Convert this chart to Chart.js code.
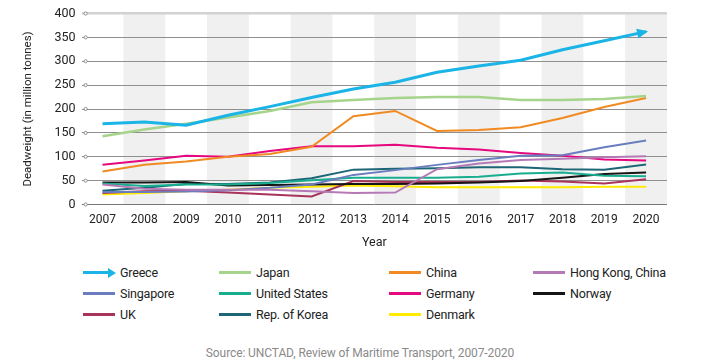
<!DOCTYPE html>
<html>
<head>
<meta charset="utf-8">
<script src="https://cdn.jsdelivr.net/npm/chart.js@4/dist/chart.umd.min.js"></script>
<style>
  body { margin: 0; background: #fff; font-family: Roboto, sans-serif; }
  #wrap { position: relative; width: 714px; height: 364px; overflow: hidden; }
  #chartBox { position: absolute; left: 0; top: 0; width: 714px; height: 250px; }
  #legend { position: absolute; left: 83px; top: 262px; display: grid;
            grid-template-columns: 136px 170px 144px 170px; grid-auto-rows: 21px; }
  .item { display: flex; align-items: center; font-size: 12.5px; color: #222; white-space: nowrap; letter-spacing: -0.2px; }
  .swatch { width: 32px; height: 3px; margin-right: 5px; position: relative; flex: none; }
  .swatch.arrow { width: 26px; margin-right: 11px; }
  .swatch.arrow::after { content: ''; position: absolute; right: -7px; top: -3.5px;
            border-left: 8px solid #1bb4e6; border-top: 5px solid transparent; border-bottom: 5px solid transparent; }
  #source { position: absolute; top: 346px; left: 0; width: 720px; text-align: center; font-size: 12px; color: #8a8a8a; letter-spacing: -0.1px; }
</style>
</head>
<body>
<div id="wrap">
  <div id="chartBox"><canvas id="chart"></canvas></div>
  <div id="legend"></div>
  <div id="source">Source: UNCTAD, Review of Maritime Transport, 2007-2020</div>
</div>
<script>
// values (million dwt)
const years = ['2007', '2008', '2009', '2010', '2011', '2012', '2013', '2014', '2015', '2016', '2017', '2018', '2019', '2020'];
const yTicks = [0, 50, 100, 150, 200, 250, 300, 350, 400];

const greece = [169, 173, 166, 187, 205, 224, 242, 256, 277, 290, 302, 324, 343, 362];
const japan = [143, 157, 169, 182, 196, 214, 219, 223, 225, 225, 219, 219, 221, 227];
const china = [69, 83, 90, 100, 106, 121, 185, 196, 154, 156, 162, 181, 204, 223];
const hongKong = [42, 33, 31, 31, 31, 28, 24, 25, 74, 86, 93, 96, 99, 101];
const singapore = [26, 26, 27, 30, 35, 42, 62, 72, 83, 93, 102, 103, 120, 134];
const unitedStates = [44, 39, 42, 42, 45, 51, 56, 56, 56, 58, 65, 67, 60, 59];
const germany = [83, 92, 102, 100, 112, 122, 122, 125, 119, 115, 108, 102, 94, 92];
const norway = [46, 46, 47, 40, 41, 42, 43, 43, 44, 46, 49, 56, 64, 67];
const uk = [24, 28, 29, 25, 21, 17, 49, 47, 47, 47, 50, 48, 44, 53];
const repKorea = [29, 35, 43, 43, 46, 55, 73, 75, 76, 78, 78, 74, 73, 84];
const denmark = [21, 24, 28, 31, 35, 37, 40, 38, 36, 36, 36, 36, 37, 37];

const FONT = 'Roboto, sans-serif';

function series(label, data, color, width) {
  return { label: label, data: data, borderColor: color, backgroundColor: color,
           borderWidth: width || 2, pointRadius: 0, tension: 0, fill: false };
}

// legend order (row by row); draw order puts Greece on top
const datasets = [
  series('Greece', greece, '#1bb4e6', 3),
  series('Japan', japan, '#a6d48b', 2.5),
  series('China', china, '#f18a21'),
  series('Hong Kong, China', hongKong, '#b57ab6'),
  series('Singapore', singapore, '#6a7ebf'),
  series('United States', unitedStates, '#19ad90'),
  series('Germany', germany, '#e5087e'),
  series('Norway', norway, '#151515'),
  series('UK', uk, '#a8335b'),
  series('Rep. of Korea', repKorea, '#1d6676'),
  series('Denmark', denmark, '#ffea00')
];
datasets.forEach((d, i) => { d.order = i; });

// grey columns behind every other year
const bands = {
  id: 'bands',
  beforeDraw(chart) {
    const { ctx, chartArea } = chart;
    const x = chart.scales.x;
    const w = (chartArea.right - chartArea.left) / years.length;
    ctx.save();
    ctx.fillStyle = '#f0f0f0';
    years.forEach((y, i) => {
      if (i % 2 === 1) {
        const cx = x.getPixelForValue(i);
        ctx.fillRect(cx - w / 2, chartArea.top, w, chartArea.bottom - chartArea.top);
      }
    });
    ctx.restore();
  }
};

// arrow head on Greece + little circles at the start of the gridlines
const marks = {
  id: 'marks',
  afterDatasetsDraw(chart) {
    const { ctx, chartArea } = chart;
    const pts = chart.getDatasetMeta(0).data;
    const a = pts[pts.length - 2], b = pts[pts.length - 1];
    const ang = Math.atan2(b.y - a.y, b.x - a.x);
    ctx.save();
    ctx.fillStyle = '#1bb4e6';
    ctx.translate(b.x, b.y);
    ctx.rotate(ang);
    ctx.beginPath();
    ctx.moveTo(2, 0);
    ctx.lineTo(-9, -5);
    ctx.lineTo(-9, 5);
    ctx.closePath();
    ctx.fill();
    ctx.restore();

    const yScale = chart.scales.y;
    ctx.save();
    ctx.strokeStyle = '#8c8c8c';
    ctx.fillStyle = '#fff';
    ctx.lineWidth = 1;
    yTicks.forEach(v => {
      ctx.beginPath();
      ctx.arc(chartArea.left + 4, yScale.getPixelForValue(v), 1.6, 0, Math.PI * 2);
      ctx.fill();
      ctx.stroke();
    });
    ctx.restore();
  }
};

new Chart(document.getElementById('chart'), {
  type: 'line',
  data: { labels: years, datasets: datasets },
  plugins: [bands, marks],
  options: {
    responsive: true,
    maintainAspectRatio: false,
    animation: false,
    layout: { padding: { left: 21, right: 47, top: 12, bottom: 0 } },
    plugins: { legend: { display: false }, tooltip: { enabled: false } },
    scales: {
      x: {
        offset: true,
        grid: { display: false, drawTicks: false },
        border: { display: false },
        ticks: { color: '#222', font: { family: FONT, size: 12 }, padding: 8, maxRotation: 0, autoSkip: false },
        title: { display: true, text: 'Year', color: '#222', font: { family: FONT, size: 12.5 }, padding: 0 },
        afterFit(s) { s.height = 45.5; }
      },
      y: {
        min: 0,
        max: 400,
        afterBuildTicks(s) { s.ticks = yTicks.map(v => ({ value: v })); },
        grid: {
          drawTicks: false,
          color: c => c.tick && c.tick.value === 400 ? '#d2d2d2' : (c.tick && c.tick.value === 0 ? '#777' : '#8f8f8f'),
          lineWidth: c => c.tick && c.tick.value === 400 ? 2.5 : 1
        },
        border: { display: false },
        ticks: { color: '#222', font: { family: FONT, size: 12.5 }, padding: 6 },
        title: { display: true, text: 'Deadweight (in million tonnes)', color: '#222', font: { family: FONT, size: 11.5 }, padding: 0 },
        afterFit(s) { s.width = 60.6; }
      }
    }
  }
});

// legend built from the chart's datasets
const legend = document.getElementById('legend');
datasets.forEach((d, i) => {
  const item = document.createElement('div');
  item.className = 'item';
  const sw = document.createElement('span');
  sw.className = 'swatch' + (i === 0 ? ' arrow' : '');
  sw.style.background = d.borderColor;
  const tx = document.createElement('span');
  tx.textContent = d.label;
  item.appendChild(sw);
  item.appendChild(tx);
  legend.appendChild(item);
});
</script>
</body>
</html>
